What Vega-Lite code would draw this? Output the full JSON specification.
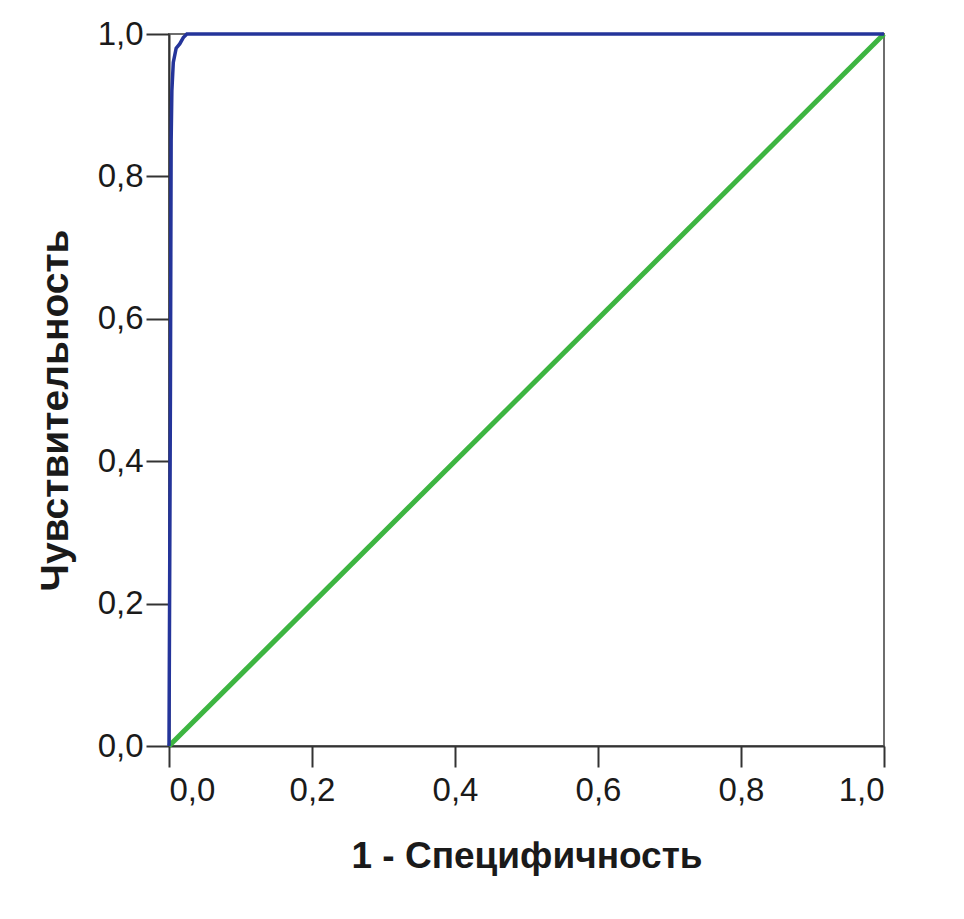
{
  "$schema": "https://vega.github.io/schema/vega-lite/v6.json",
  "width": 715,
  "height": 712,
  "autosize": {"type": "none"},
  "padding": {"left": 169, "top": 34, "right": 80, "bottom": 173},
  "background": "white",
  "config": {
    "view": {"stroke": "#6e6e6e", "strokeWidth": 2},
    "font": "Liberation Sans"
  },
  "datasets": {
    "roc": [
      {"fpr": 0.0, "tpr": 0.0},
      {"fpr": 0.002, "tpr": 0.5},
      {"fpr": 0.003, "tpr": 0.85},
      {"fpr": 0.004, "tpr": 0.92},
      {"fpr": 0.006, "tpr": 0.96},
      {"fpr": 0.01, "tpr": 0.98},
      {"fpr": 0.015, "tpr": 0.986},
      {"fpr": 0.02, "tpr": 0.995},
      {"fpr": 0.025, "tpr": 1.0},
      {"fpr": 1.0, "tpr": 1.0}
    ],
    "ref": [
      {"fpr": 0.0, "tpr": 0.0},
      {"fpr": 1.0, "tpr": 1.0}
    ]
  },
  "encoding": {
    "x": {
      "field": "fpr", "type": "quantitative",
      "scale": {"domain": [0, 1], "nice": false},
      "axis": {
        "title": "1 - Специфичность",
        "titleFontSize": 37, "titleFontWeight": "bold", "titleColor": "#1a1a1a",
        "titleBaseline": "alphabetic", "titleY": 121,
        "values": [0, 0.2, 0.4, 0.6, 0.8, 1.0],
        "labelExpr": "replace(format(datum.value, '.1f'), '.', ',')",
        "labelFontSize": 33, "labelColor": "#1a1a1a", "labelPadding": 7,
        "grid": false, "tickSize": 21, "tickColor": "#333", "tickWidth": 2,
        "domainColor": "#333", "domainWidth": 2
      }
    },
    "y": {
      "field": "tpr", "type": "quantitative",
      "scale": {"domain": [0, 1], "nice": false},
      "axis": {
        "title": "Чувствительность",
        "titleFontSize": 39, "titleFontWeight": "bold", "titleColor": "#1a1a1a",
        "titleBaseline": "middle", "titleX": -114, "titleY": 376,
        "values": [0, 0.2, 0.4, 0.6, 0.8, 1.0],
        "labelExpr": "replace(format(datum.value, '.1f'), '.', ',')",
        "labelFontSize": 33, "labelColor": "#1a1a1a", "labelPadding": 3,
        "grid": false, "tickSize": 23, "tickColor": "#333", "tickWidth": 2,
        "domainColor": "#333", "domainWidth": 2
      }
    }
  },
  "layer": [
    {
      "data": {"name": "ref"},
      "mark": {"type": "line", "color": "#3db541", "strokeWidth": 5}
    },
    {
      "data": {"name": "roc"},
      "mark": {"type": "line", "color": "#24349a", "strokeWidth": 3.5}
    }
  ]
}
